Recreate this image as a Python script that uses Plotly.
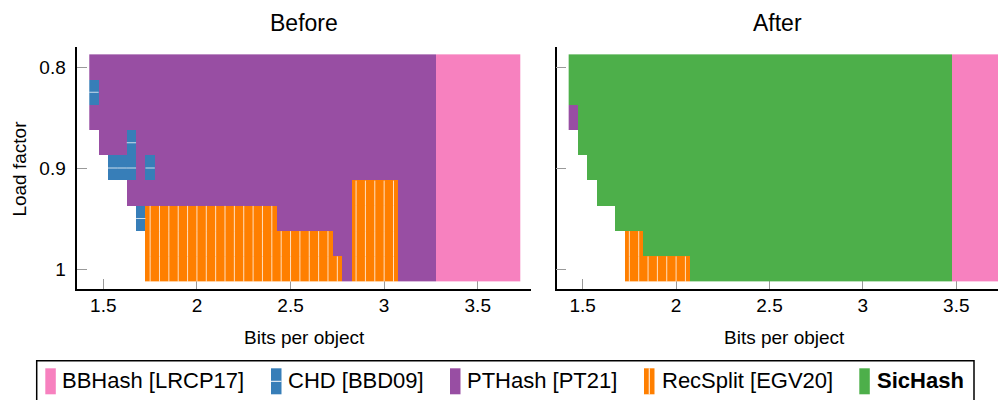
import plotly.graph_objects as go

# ---------------- data ----------------
bits = [1.45, 1.50, 1.55, 1.60, 1.65, 1.70, 1.75, 1.80, 1.85, 1.90,
        1.95, 2.00, 2.05, 2.10, 2.15, 2.20, 2.25, 2.30, 2.35, 2.40,
        2.45, 2.50, 2.55, 2.60, 2.65, 2.70, 2.75, 2.80, 2.85, 2.90,
        2.95, 3.00, 3.05, 3.10, 3.15, 3.20, 3.25, 3.30, 3.35, 3.40,
        3.45, 3.50, 3.55, 3.60, 3.65, 3.70]
load_factors = [0.800, 0.825, 0.850, 0.875, 0.900, 0.925, 0.950, 0.975, 1.000]

# one character per bits column: B=BBHash, C=CHD, P=PTHash, R=RecSplit, S=SicHash, .=none
before_rows = [
    "PPPPPPPPPP" "PPPPPPPPPP" "PPPPPPPPPP" "PPPPPPPBBB" "BBBBBB",  # 0.800
    "CPPPPPPPPP" "PPPPPPPPPP" "PPPPPPPPPP" "PPPPPPPBBB" "BBBBBB",  # 0.825
    "PPPPPPPPPP" "PPPPPPPPPP" "PPPPPPPPPP" "PPPPPPPBBB" "BBBBBB",  # 0.850
    ".PPPCPPPPP" "PPPPPPPPPP" "PPPPPPPPPP" "PPPPPPPBBB" "BBBBBB",  # 0.875
    "..CCCPCPPP" "PPPPPPPPPP" "PPPPPPPPPP" "PPPPPPPBBB" "BBBBBB",  # 0.900
    "....PPPPPP" "PPPPPPPPPP" "PPPPPPPPRR" "RRRPPPPBBB" "BBBBBB",  # 0.925
    ".....CRRRR" "RRRRRRRRRR" "PPPPPPPPRR" "RRRPPPPBBB" "BBBBBB",  # 0.950
    "......RRRR" "RRRRRRRRRR" "RRRRRRPPRR" "RRRPPPPBBB" "BBBBBB",  # 0.975
    "......RRRR" "RRRRRRRRRR" "RRRRRRRPRR" "RRRPPPPBBB" "BBBBBB",  # 1.000
]
after_rows = [
    "SSSSSSSSSS" "SSSSSSSSSS" "SSSSSSSSSS" "SSSSSSSSSS" "SBBBBB",  # 0.800
    "SSSSSSSSSS" "SSSSSSSSSS" "SSSSSSSSSS" "SSSSSSSSSS" "SBBBBB",  # 0.825
    "PSSSSSSSSS" "SSSSSSSSSS" "SSSSSSSSSS" "SSSSSSSSSS" "SBBBBB",  # 0.850
    ".SSSSSSSSS" "SSSSSSSSSS" "SSSSSSSSSS" "SSSSSSSSSS" "SBBBBB",  # 0.875
    "..SSSSSSSS" "SSSSSSSSSS" "SSSSSSSSSS" "SSSSSSSSSS" "SBBBBB",  # 0.900
    "...SSSSSSS" "SSSSSSSSSS" "SSSSSSSSSS" "SSSSSSSSSS" "SBBBBB",  # 0.925
    ".....SSSSS" "SSSSSSSSSS" "SSSSSSSSSS" "SSSSSSSSSS" "SBBBBB",  # 0.950
    "......RRSS" "SSSSSSSSSS" "SSSSSSSSSS" "SSSSSSSSSS" "SBBBBB",  # 0.975
    "......RRRR" "RRRSSSSSSS" "SSSSSSSSSS" "SSSSSSSSSS" "SBBBBB",  # 1.000
]

method_codes = ["B", "C", "P", "R", "S"]
method_names = ["BBHash [LRCP17]", "CHD [BBD09]", "PTHash [PT21]", "RecSplit [EGV20]", "SicHash"]
method_colors = ["#F781BF", "#377EB8", "#984EA3", "#FF7F00", "#4DAF4A"]

panel_titles = ["Before", "After"]
x_tickvals = [1.5, 2.0, 2.5, 3.0, 3.5]
x_ticktext = ["1.5", "2", "2.5", "3", "3.5"]
y_tickvals = [0.8, 0.9, 1.0]
y_ticktext = ["0.8", "0.9", "1"]

for r in before_rows + after_rows:
    assert len(r) == len(bits), (r, len(r))

# ---------------- figure ----------------
OFF = 8  # page body margin in the browser
W, H = 1006 - OFF, 400 - OFF
FONT = "Liberation Sans, Arial, Helvetica, sans-serif"
fig = go.Figure()

half_w = (bits[1] - bits[0]) / 2
half_h = (load_factors[1] - load_factors[0]) / 2
pattern_color = "rgba(255,255,255,0.75)"

for rows, xa, ya in [(before_rows, "x", "y"), (after_rows, "x2", "y2")]:
    for code, color in zip(method_codes, method_colors):
        z = [[1 if ch == code else None for ch in row] for row in rows]
        if not any(v is not None for zr in z for v in zr):
            continue
        fig.add_trace(go.Heatmap(
            x=bits, y=load_factors, z=z, xaxis=xa, yaxis=ya,
            colorscale=[[0, color], [1, color]], zmin=0, zmax=1,
            showscale=False, hoverinfo="skip"))
    # pattern marks: CHD horizontal line, RecSplit vertical line
    hx, hy, vx, vy = [], [], [], []
    for lf, row in zip(load_factors, rows):
        for b, ch in zip(bits, row):
            if ch == "C":
                hx += [b - half_w, b + half_w, None]
                hy += [lf, lf, None]
            elif ch == "R":
                vx += [b, b, None]
                vy += [lf - half_h, lf + half_h, None]
    for px_, py_ in [(hx, hy), (vx, vy)]:
        if px_:
            fig.add_trace(go.Scatter(x=px_, y=py_, mode="lines", xaxis=xa, yaxis=ya,
                                     line=dict(color=pattern_color, width=1),
                                     hoverinfo="skip", showlegend=False))

def px2x(p):
    return (p - OFF) / W

def px2y(p):
    return 1 - (p - OFF) / H

y_dom = [px2y(289), px2y(47.3)]
axis_common = dict(showgrid=False, zeroline=False, showline=True, linecolor="#000",
                   linewidth=1.5, ticks="inside", ticklen=10, tickcolor="#999",
                   tickwidth=1, layer="below traces",
                   tickfont=dict(family=FONT, size=19, color="#000"))

fig.update_layout(
    width=W, height=H, margin=dict(l=0, r=0, t=0, b=0),
    paper_bgcolor="white", plot_bgcolor="white", showlegend=False,
    xaxis=dict(domain=[px2x(77.3), px2x(531.3)], range=[1.361, 3.786], anchor="y",
               tickvals=x_tickvals, ticktext=x_ticktext, ticklabelstandoff=-2, **axis_common),
    yaxis=dict(domain=y_dom, range=[1.0198, 0.7805], anchor="x",
               tickvals=y_tickvals, ticktext=y_ticktext, ticklabelstandoff=6, **axis_common),
    xaxis2=dict(domain=[px2x(556.7), 1.0], range=[1.361, 3.766], anchor="y2",
                tickvals=x_tickvals, ticktext=x_ticktext, ticklabelstandoff=-2, **axis_common),
    yaxis2=dict(domain=y_dom, range=[1.0198, 0.7805], anchor="x2",
                tickvals=y_tickvals, ticktext=y_ticktext, showticklabels=False, **axis_common),
)

ann = []
# panel titles
for txt, cx in zip(panel_titles, [304.3, 777]):
    ann.append(dict(text=txt, x=px2x(cx), y=px2y(8.5), xref="paper", yref="paper",
                    showarrow=False, font=dict(family=FONT, size=23, color="#000"),
                    xanchor="center", yanchor="top", borderpad=0))
# axis titles
for cx in [304.7, 784.5]:
    ann.append(dict(text="Bits per object", x=px2x(cx), y=px2y(337.3), xref="paper", yref="paper",
                    showarrow=False, font=dict(family=FONT, size=19, color="#000"),
                    xanchor="center", yanchor="middle"))
ann.append(dict(text="Load factor", x=px2x(8.3), y=px2y(168.8), xref="paper", yref="paper",
                showarrow=False, textangle=-90, font=dict(family=FONT, size=19, color="#000"),
                xanchor="left", yanchor="middle", borderpad=0))

# legend (drawn as shapes + text)
shapes = []
shapes.append(dict(type="rect", xref="paper", yref="paper", x0=px2x(36.7), x1=px2x(974),
                   y0=px2y(360.7), y1=px2y(410), line=dict(color="#000", width=1.5),
                   fillcolor="rgba(0,0,0,0)"))
sw_left = [45.3, 271.0, 450.0, 644.0, 859.3]
txt_left = [59.5, 286.0, 465.0, 660.0, 874.5]
sw_w = 10.5
sw_top, sw_bot = 368.3, 394.3
for i, (name, color, code) in enumerate(zip(method_names, method_colors, method_codes)):
    x0 = sw_left[i]
    shapes.append(dict(type="rect", xref="paper", yref="paper", x0=px2x(x0), x1=px2x(x0 + sw_w),
                       y0=px2y(sw_bot), y1=px2y(sw_top), line=dict(width=0), fillcolor=color))
    if code == "C":
        yc = (sw_top + sw_bot) / 2
        shapes.append(dict(type="line", xref="paper", yref="paper", x0=px2x(x0), x1=px2x(x0 + sw_w),
                           y0=px2y(yc), y1=px2y(yc), line=dict(color="white", width=1)))
    if code == "R":
        xc = x0 + sw_w / 2
        shapes.append(dict(type="line", xref="paper", yref="paper", x0=px2x(xc), x1=px2x(xc),
                           y0=px2y(sw_bot), y1=px2y(sw_top), line=dict(color="white", width=1)))
    label = "<b>%s</b>" % name if code == "S" else name
    ann.append(dict(text=label, x=px2x(txt_left[i]), y=px2y(380.7), xref="paper", yref="paper",
                    showarrow=False, font=dict(family=FONT, size=22, color="#000"),
                    xanchor="left", yanchor="middle"))

fig.update_layout(annotations=ann, shapes=shapes)
fig.write_html("out.html")
